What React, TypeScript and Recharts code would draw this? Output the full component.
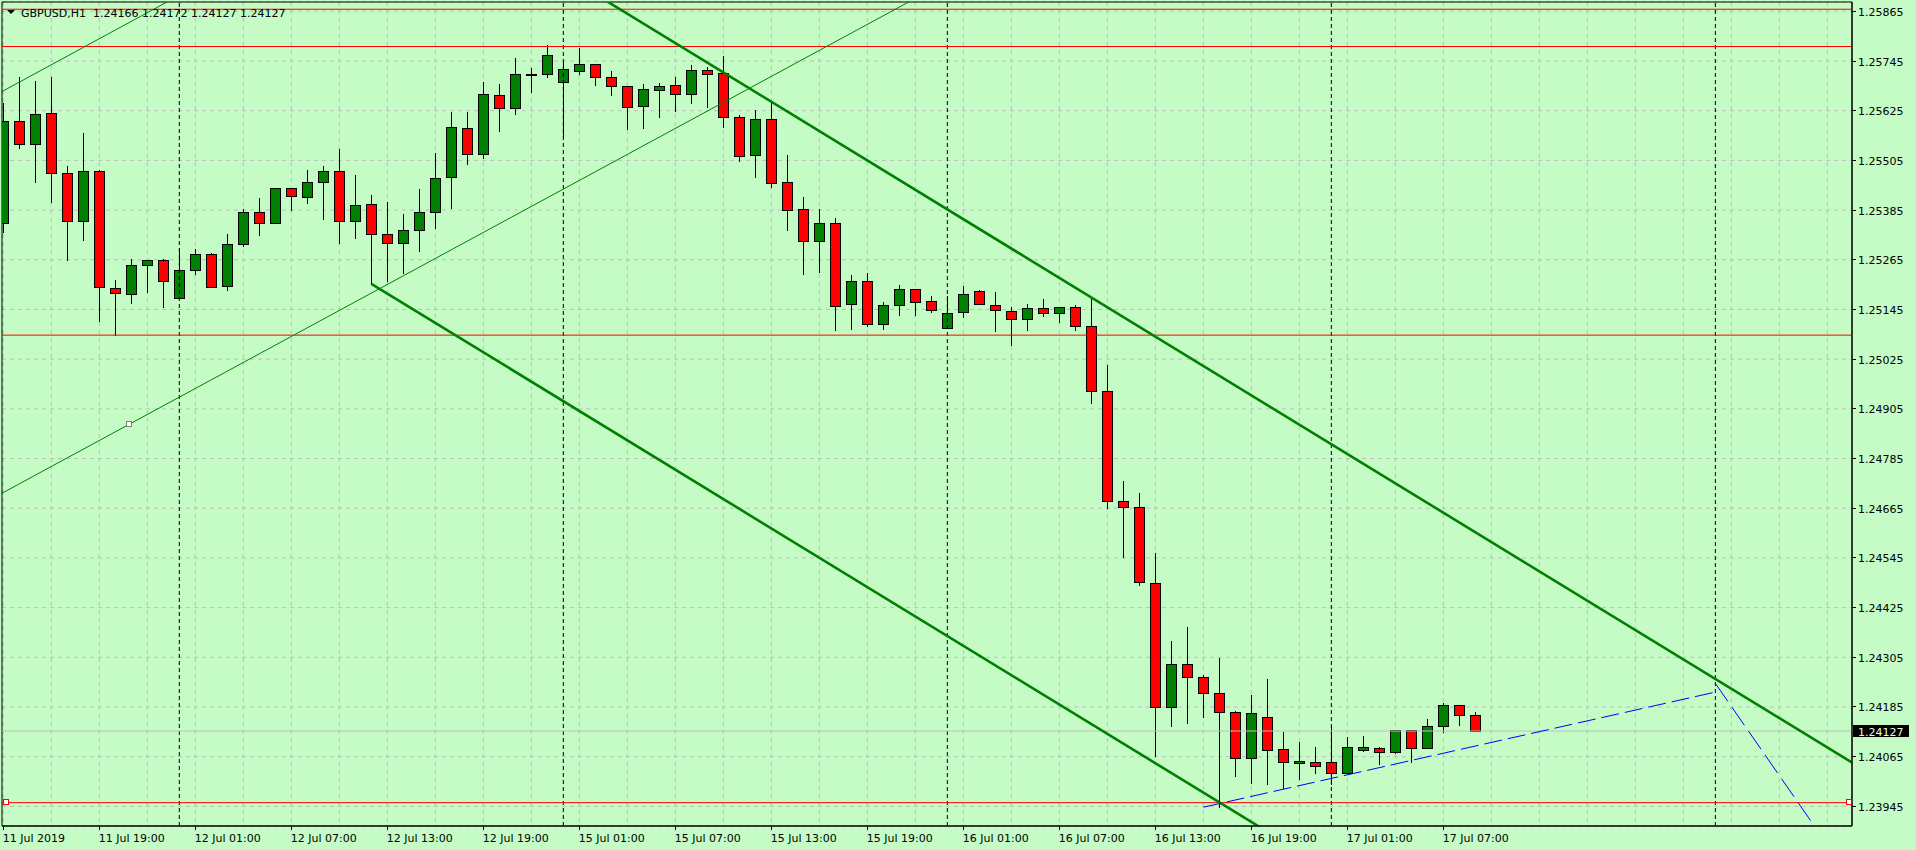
import React from 'react';
import {
  ComposedChart,
  Bar,
  XAxis,
  YAxis,
  CartesianGrid,
  ReferenceLine,
  ReferenceArea,
  ReferenceDot,
} from 'recharts';

// ---------------- DATA ----------------
const symbol = 'GBPUSD,H1';

const opens = [
  1.25353, 1.25599, 1.25545, 1.25619, 1.25474, 1.25358, 1.25479, 1.25196, 1.25182, 1.25252,
  1.25264, 1.25172, 1.25240, 1.25278, 1.25201, 1.25302, 1.25380, 1.25353, 1.25438, 1.25416,
  1.25452, 1.25479, 1.25358, 1.25399, 1.25327, 1.25305, 1.25336, 1.25380, 1.25464, 1.25583,
  1.25520, 1.25662, 1.25631, 1.25713, 1.25713, 1.25694, 1.25720, 1.25737, 1.25706, 1.25684,
  1.25636, 1.25674, 1.25686, 1.25665, 1.25723, 1.25715, 1.25609, 1.25517, 1.25604, 1.25452,
  1.25387, 1.25310, 1.25355, 1.25158, 1.25213, 1.25109, 1.25155, 1.25194, 1.25165, 1.25100,
  1.25138, 1.25189, 1.25155, 1.25141, 1.25121, 1.25148, 1.25136, 1.25150, 1.25104, 1.24947,
  1.24682, 1.24667, 1.24484, 1.24184, 1.24288, 1.24257, 1.24218, 1.24172, 1.24061, 1.24162,
  1.24083, 1.24049, 1.24051, 1.24051, 1.24025, 1.24080, 1.24085, 1.24076, 1.24129, 1.24085,
  1.24138, 1.24189, 1.24166,
];
const highs = [
  1.25643, 1.25706, 1.25697, 1.25706, 1.25491, 1.25570, 1.25481, 1.25216, 1.25266, 1.25264,
  1.25266, 1.25293, 1.25290, 1.25281, 1.25327, 1.25387, 1.25413, 1.25438, 1.25438, 1.25481,
  1.25491, 1.25533, 1.25470, 1.25421, 1.25405, 1.25376, 1.25436, 1.25523, 1.25622, 1.25622,
  1.25694, 1.25689, 1.25752, 1.25728, 1.25784, 1.25743, 1.25776, 1.25737, 1.25720, 1.25684,
  1.25689, 1.25691, 1.25706, 1.25735, 1.25730, 1.25757, 1.25614, 1.25627, 1.25643, 1.25517,
  1.25416, 1.25387, 1.25365, 1.25228, 1.25232, 1.25162, 1.25203, 1.25194, 1.25177, 1.25177,
  1.25201, 1.25191, 1.25186, 1.25150, 1.25158, 1.25170, 1.25150, 1.25155, 1.25170, 1.25010,
  1.24730, 1.24701, 1.24556, 1.24344, 1.24377, 1.24262, 1.24303, 1.24175, 1.24213, 1.24252,
  1.24124, 1.24100, 1.24088, 1.24138, 1.24112, 1.24114, 1.24088, 1.24129, 1.24129, 1.24155,
  1.24194, 1.24189, 1.24172,
];
const lows = [
  1.25333, 1.25536, 1.25453, 1.25405, 1.25265, 1.25313, 1.25117, 1.25083, 1.25161, 1.25187,
  1.25152, 1.25172, 1.25231, 1.25199, 1.25193, 1.25299, 1.25326, 1.25353, 1.25384, 1.25403,
  1.25364, 1.25306, 1.25318, 1.25207, 1.25214, 1.25234, 1.25285, 1.25342, 1.25391, 1.25497,
  1.25511, 1.25577, 1.25616, 1.25670, 1.25706, 1.25562, 1.25713, 1.25686, 1.25662, 1.25582,
  1.25583, 1.25610, 1.25625, 1.25643, 1.25635, 1.25586, 1.25503, 1.25466, 1.25440, 1.25336,
  1.25230, 1.25236, 1.25095, 1.25097, 1.25104, 1.25097, 1.25131, 1.25131, 1.25138, 1.25100,
  1.25126, 1.25158, 1.25094, 1.25060, 1.25096, 1.25129, 1.25115, 1.25096, 1.24920, 1.24665,
  1.24548, 1.24479, 1.24067, 1.24140, 1.24147, 1.24162, 1.23943, 1.24019, 1.24002, 1.24000,
  1.23990, 1.24012, 1.24026, 1.23998, 1.24025, 1.24078, 1.24048, 1.24073, 1.24051, 1.24085,
  1.24124, 1.24141, 1.24127,
];
const closes = [
  1.25599, 1.25545, 1.25616, 1.25474, 1.25358, 1.25479, 1.25199, 1.25184, 1.25252, 1.25264,
  1.25213, 1.25240, 1.25278, 1.25199, 1.25302, 1.25380, 1.25353, 1.25438, 1.25418, 1.25452,
  1.25479, 1.25358, 1.25397, 1.25327, 1.25305, 1.25336, 1.25380, 1.25462, 1.25585, 1.25520,
  1.25665, 1.25631, 1.25713, 1.25712, 1.25759, 1.25725, 1.25737, 1.25706, 1.25684, 1.25633,
  1.25677, 1.25684, 1.25665, 1.25723, 1.25713, 1.25609, 1.25515, 1.25604, 1.25450, 1.25384,
  1.25310, 1.25355, 1.25154, 1.25213, 1.25109, 1.25155, 1.25194, 1.25162, 1.25143, 1.25136,
  1.25182, 1.25158, 1.25143, 1.25121, 1.25148, 1.25136, 1.25150, 1.25104, 1.24947, 1.24682,
  1.24667, 1.24486, 1.24184, 1.24288, 1.24257, 1.24218, 1.24172, 1.24061, 1.24170, 1.24080,
  1.24051, 1.24054, 1.24042, 1.24025, 1.24088, 1.24088, 1.24076, 1.24129, 1.24085, 1.24138,
  1.24189, 1.24166, 1.24127,
];

const timeLabels = [
  '11 Jul 2019', '11 Jul 19:00', '12 Jul 01:00', '12 Jul 07:00', '12 Jul 13:00', '12 Jul 19:00',
  '15 Jul 01:00', '15 Jul 07:00', '15 Jul 13:00', '15 Jul 19:00', '16 Jul 01:00', '16 Jul 07:00',
  '16 Jul 13:00', '16 Jul 19:00', '17 Jul 01:00', '17 Jul 07:00',
];
const LABEL_STEP = 6;
const GRID_STEP = 3;
const GRID_LAST = 114;
const separatorBars = [11, 35, 59, 83, 107];

const priceTicks = [
  1.23945, 1.24065, 1.24185, 1.24305, 1.24425, 1.24545, 1.24665, 1.24785, 1.24905,
  1.25025, 1.25145, 1.25265, 1.25385, 1.25505, 1.25625, 1.25745, 1.25865,
];
const horizontalLevels = [1.2587, 1.2578, 1.25083, 1.23954];
const bidPrice = 1.24127;

const channelUpper = [{ x: 36, y: 1.2593 }, { x: 116, y: 1.2404 }];
const channelLower = [{ x: 23, y: 1.25207 }, { x: 90, y: 1.23624 }];
const risingUpper = [{ x: -1, y: 1.25652 }, { x: 30, y: 1.26302 }];
const risingLower = [{ x: -1, y: 1.24682 }, { x: 60, y: 1.25959 }];
const blueUp = [{ x: 75, y: 1.23943 }, { x: 107, y: 1.24221 }];
const blueDown = [{ x: 107, y: 1.24242 }, { x: 113, y: 1.23908 }];
const redMarkers = [{ x: 0.2, y: 1.23954 }, { x: 115.4, y: 1.23954 }];
const greenMarkers = [{ x: 7.9, y: 1.24868 }];

// ---------------- LAYOUT ----------------
const W = 1916;
const H = 850;
const X_DOMAIN: [number, number] = [-0.081, 115.54];
const Y_DOMAIN: [number, number] = [1.238976, 1.258875];
const BG = '#C5FCC5';
const GREEN = '#008000';
const RED = '#FF0000';
const FONT = 'DejaVu Sans';

const data = opens.map((o, i) => ({
  i,
  open: o,
  high: highs[i],
  low: lows[i],
  close: closes[i],
  range: [lows[i], highs[i]],
}));

const gridIdx: number[] = [];
for (let k = 0; k <= GRID_LAST; k += GRID_STEP) gridIdx.push(k);

const CandleShape = (props: any) => {
  const { x, y, width, height, payload } = props;
  if (x == null || y == null || !payload) return <g />;
  const cx = Math.floor(x + width / 2) + 0.5;
  const top = Math.min(y, y + height);
  const bot = Math.max(y, y + height);
  const { open, high, low, close } = payload;
  const span = high - low;
  const toPx = (p: number) => (span > 0 ? top + ((high - p) / span) * (bot - top) : top);
  const yO = toPx(open);
  const yC = toPx(close);
  const bTop = Math.round(Math.min(yO, yC)) + 0.5;
  const bBot = Math.round(Math.max(yO, yC)) + 0.5;
  const fill = close > open ? GREEN : close < open ? RED : '#000';
  return (
    <g>
      <line x1={cx} x2={cx} y1={Math.round(top)} y2={Math.round(bot) + 1} stroke="#000" strokeWidth={1} />
      <rect
        x={cx - 5}
        y={bTop}
        width={10}
        height={Math.max(bBot - bTop, 1)}
        fill={fill}
        stroke="#000"
        strokeWidth={1}
      />
    </g>
  );
};

const TimeTick = (props: any) => {
  const { x, y, payload } = props;
  const idx = payload.value;
  const k = idx / LABEL_STEP;
  if (!Number.isInteger(k) || k >= timeLabels.length) return <g />;
  const xx = Math.floor(x) + 0.5;
  return (
    <g>
      <line x1={xx} x2={xx} y1={y} y2={y + 4} stroke="#000" strokeWidth={1} />
      <text x={x - 0.5} y={y + 16} fontFamily={FONT} fontSize={11} fill="#000">
        {timeLabels[k]}
      </text>
    </g>
  );
};

const PriceTick = (props: any) => {
  const { x, y, payload } = props;
  const yy = Math.floor(y) + 0.5;
  return (
    <g>
      <line x1={x} x2={x + 4} y1={yy} y2={yy} stroke="#000" strokeWidth={1} />
      <text x={x + 6} y={y + 4.5} fontFamily={FONT} fontSize={11} fill="#000">
        {Number(payload.value).toFixed(5)}
      </text>
    </g>
  );
};

const BidLabel = (props: any) => {
  const vb = props.viewBox || {};
  const right = (vb.x || 0) + (vb.width || 0);
  const cy = (vb.y || 0) + (vb.height || 0) / 2;
  return (
    <g>
      <rect x={right + 1} y={cy - 6} width={56} height={12} fill="#000" />
      <text x={right + 6} y={cy + 4.5} fontFamily={FONT} fontSize={11} fill="#E6FFE6">
        {bidPrice.toFixed(5)}
      </text>
    </g>
  );
};

const squareShape = (color: string) => (props: any) => (
  <rect x={Math.floor(props.cx) - 2.5} y={Math.floor(props.cy) - 2.5} width={5} height={5} fill="#fff" stroke={color} strokeWidth={1} />
);

export default function App() {
  const last = data[data.length - 1];
  const header = `${symbol}  ${last.open.toFixed(5)} ${last.high.toFixed(5)} ${last.low.toFixed(5)} ${last.close.toFixed(5)}`;
  return (
    <div style={{ position: 'absolute', left: 0, top: 0, width: W, height: H, background: BG, overflow: 'hidden' }}>
      <ComposedChart width={W} height={H} data={data} margin={{ top: 2, right: 0, bottom: 0, left: 2 }}>
        <CartesianGrid stroke="#BDBDBD" strokeDasharray="4 4" />
        <XAxis
          dataKey="i"
          type="number"
          domain={X_DOMAIN}
          allowDataOverflow
          ticks={gridIdx}
          interval={0}
          height={24}
          tickSize={0}
          tickMargin={0}
          tickLine={false}
          axisLine={{ stroke: '#000' }}
          tick={<TimeTick />}
        />
        <YAxis
          type="number"
          orientation="right"
          domain={Y_DOMAIN}
          allowDataOverflow
          ticks={priceTicks}
          interval={0}
          width={64}
          tickSize={0}
          tickMargin={0}
          tickLine={false}
          axisLine={{ stroke: '#000' }}
          tick={<PriceTick />}
        />
        {separatorBars.map((b) => (
          <ReferenceLine key={'sep' + b} x={b} stroke="#000" strokeDasharray="4 3" strokeWidth={1} />
        ))}
        <Bar dataKey="range" shape={CandleShape} barSize={11} isAnimationActive={false} />
        <ReferenceLine y={bidPrice} stroke="#C0C0C0" strokeWidth={1} label={<BidLabel />} />
        {horizontalLevels.map((p) => (
          <ReferenceLine key={'lvl' + p} y={p} stroke={RED} strokeWidth={1} />
        ))}
        <ReferenceLine segment={risingUpper} stroke={GREEN} strokeWidth={1} ifOverflow="hidden" />
        <ReferenceLine segment={risingLower} stroke={GREEN} strokeWidth={1} ifOverflow="hidden" />
        <ReferenceLine segment={channelUpper} stroke={GREEN} strokeWidth={2.6} ifOverflow="hidden" />
        <ReferenceLine segment={channelLower} stroke={GREEN} strokeWidth={2.6} ifOverflow="hidden" />
        <ReferenceLine segment={blueUp} stroke="#0000FF" strokeWidth={1} strokeDasharray="18 6" ifOverflow="hidden" />
        <ReferenceLine segment={blueDown} stroke="#0000FF" strokeWidth={1} strokeDasharray="22 7" ifOverflow="hidden" />
        {redMarkers.map((m, k) => (
          <ReferenceDot key={'rm' + k} x={m.x} y={m.y} r={3} shape={squareShape(RED)} />
        ))}
        {greenMarkers.map((m, k) => (
          <ReferenceDot key={'gm' + k} x={m.x} y={m.y} r={3} shape={squareShape('#808080')} />
        ))}
        <ReferenceArea
          x1={X_DOMAIN[0]}
          x2={X_DOMAIN[1]}
          y1={Y_DOMAIN[0]}
          y2={Y_DOMAIN[1]}
          fill="none"
          fillOpacity={0}
          stroke="#000"
          strokeWidth={1}
          ifOverflow="visible"
        />
      </ComposedChart>
      <svg
        width={420}
        height={24}
        style={{ position: 'absolute', left: 0, top: 0, pointerEvents: 'none' }}
      >
        <polygon points="7,10 15,10 11,14" fill="#000" />
        <text x={21} y={17} fontFamily={FONT} fontSize={11} fill="#000" style={{ whiteSpace: 'pre' }}>
          {header}
        </text>
      </svg>
    </div>
  );
}
